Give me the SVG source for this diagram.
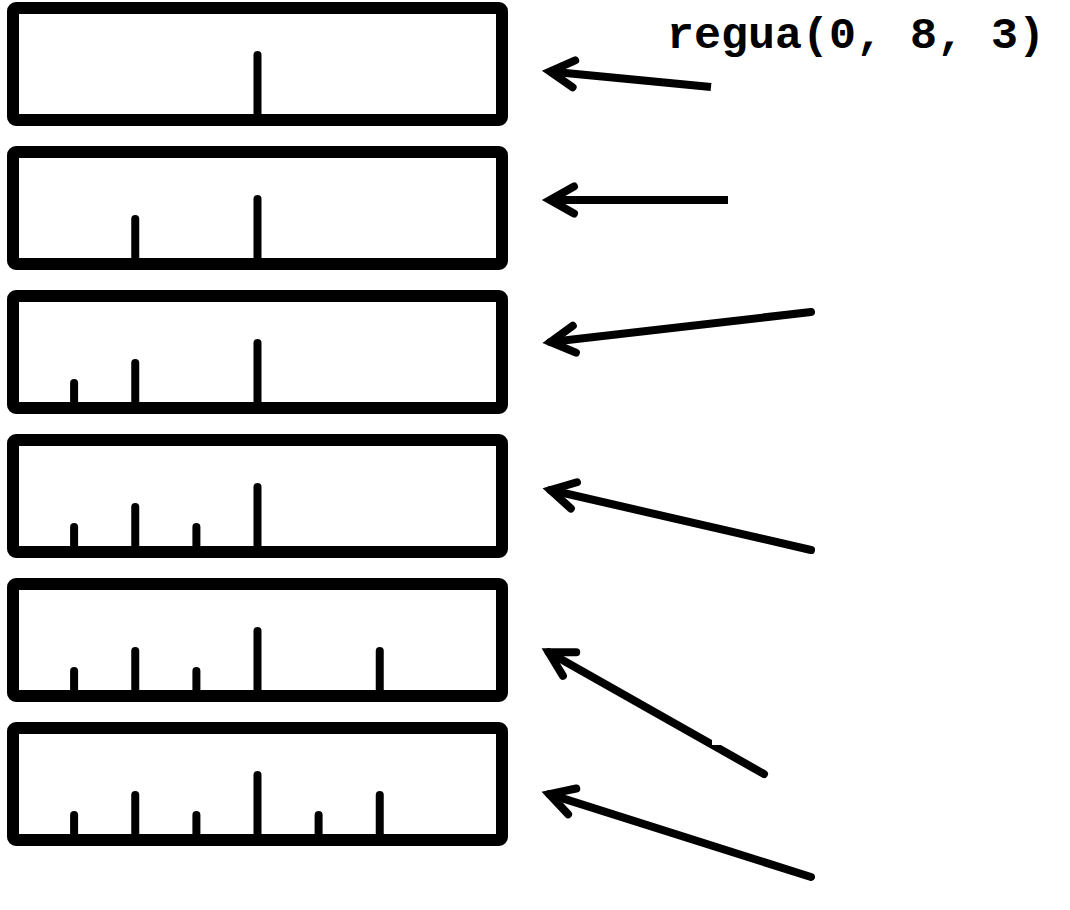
<svg xmlns="http://www.w3.org/2000/svg" width="1070" height="910" viewBox="0 0 1070 910">
  <style>
    .box { fill: #fff; stroke: #000; stroke-width: 12; }
    .tick { stroke: #000; stroke-width: 8; stroke-linecap: round; }
    .arrow { fill: none; stroke: #000; stroke-width: 8; marker-end: url(#head); }
    .rc { stroke-linecap: round; }
    .label { font-family: "Liberation Mono", "Courier New", monospace; font-weight: bold; font-size: 45px; fill: #000; }
  </style>
  <defs>
    <marker id="head" markerUnits="userSpaceOnUse" viewBox="-30 -20 40 40" refX="0" refY="0" markerWidth="40" markerHeight="40" orient="auto" overflow="visible">
      <path d="M-24,-13.5 L0,0 L-24,13.5" fill="none" stroke="#000" stroke-width="8" stroke-linecap="round" stroke-linejoin="miter"/>
    </marker>
  </defs>

  <text class="label" x="667" y="48">regua(0, 8, 3)</text>

  <g id="ruler1">
    <rect class="box" x="13" y="8" width="489" height="112" rx="3"/>
    <line class="tick" x1="257.5" y1="120" x2="257.5" y2="55"/>
  </g>
  <g id="ruler2">
    <rect class="box" x="13" y="152" width="489" height="112" rx="3"/>
    <line class="tick" x1="135.25" y1="264" x2="135.25" y2="219"/>
    <line class="tick" x1="257.5" y1="264" x2="257.5" y2="199"/>
  </g>
  <g id="ruler3">
    <rect class="box" x="13" y="296" width="489" height="112" rx="3"/>
    <line class="tick" x1="74.1" y1="408" x2="74.1" y2="383"/>
    <line class="tick" x1="135.25" y1="408" x2="135.25" y2="363"/>
    <line class="tick" x1="257.5" y1="408" x2="257.5" y2="343"/>
  </g>
  <g id="ruler4">
    <rect class="box" x="13" y="440" width="489" height="112" rx="3"/>
    <line class="tick" x1="74.1" y1="552" x2="74.1" y2="527"/>
    <line class="tick" x1="135.25" y1="552" x2="135.25" y2="507"/>
    <line class="tick" x1="196.4" y1="552" x2="196.4" y2="527"/>
    <line class="tick" x1="257.5" y1="552" x2="257.5" y2="487"/>
  </g>
  <g id="ruler5">
    <rect class="box" x="13" y="584" width="489" height="112" rx="3"/>
    <line class="tick" x1="74.1" y1="696" x2="74.1" y2="671"/>
    <line class="tick" x1="135.25" y1="696" x2="135.25" y2="651"/>
    <line class="tick" x1="196.4" y1="696" x2="196.4" y2="671"/>
    <line class="tick" x1="257.5" y1="696" x2="257.5" y2="631"/>
    <line class="tick" x1="379.75" y1="696" x2="379.75" y2="651"/>
  </g>
  <g id="ruler6">
    <rect class="box" x="13" y="728" width="489" height="112" rx="3"/>
    <line class="tick" x1="74.1" y1="840" x2="74.1" y2="815"/>
    <line class="tick" x1="135.25" y1="840" x2="135.25" y2="795"/>
    <line class="tick" x1="196.4" y1="840" x2="196.4" y2="815"/>
    <line class="tick" x1="257.5" y1="840" x2="257.5" y2="775"/>
    <line class="tick" x1="318.6" y1="840" x2="318.6" y2="815"/>
    <line class="tick" x1="379.75" y1="840" x2="379.75" y2="795"/>
  </g>

  <g id="connectors">
    <line class="arrow" x1="711" y1="87" x2="550" y2="71.5"/>
    <line class="arrow" x1="728" y1="200" x2="550" y2="200"/>
    <line class="arrow rc" x1="811" y1="312" x2="550.5" y2="342"/>
    <line class="arrow rc" x1="811" y1="550" x2="550.5" y2="490"/>
    <line class="arrow rc" x1="764" y1="774" x2="548.7" y2="652.3"/>
    <rect x="712" y="735" width="14" height="10" fill="#fff"/>
    <line class="arrow rc" x1="811" y1="877" x2="549.3" y2="794.1"/>
  </g>
</svg>
